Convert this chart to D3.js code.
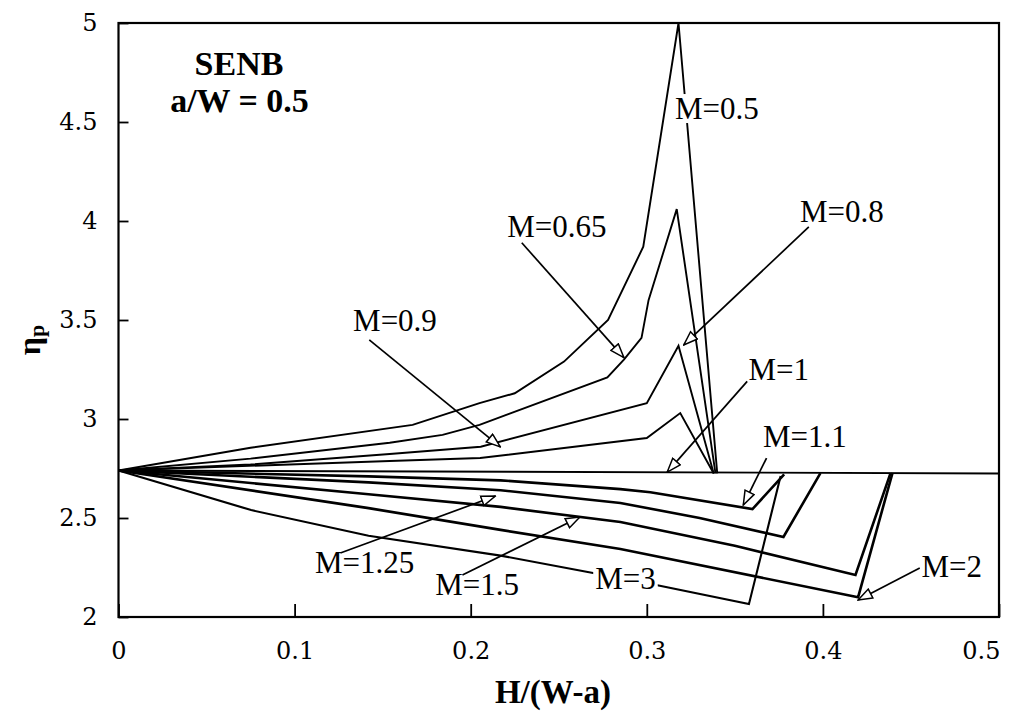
<!DOCTYPE html>
<html><head><meta charset="utf-8">
<script src="https://cdn.jsdelivr.net/npm/d3@7"></script>
<style>body{margin:0;background:#fff}</style>
</head><body><svg id="c" width="1011" height="720"></svg>
<script>
// ---- data ----
const xTicks = [0, 0.1, 0.2, 0.3, 0.4, 0.5];
const yTicks = [2, 2.5, 3, 3.5, 4, 4.5, 5];

const curveM05  = [[0,2.74],[0.075,2.855],[0.167,2.97],[0.205,3.08],[0.225,3.13],[0.253,3.29],[0.278,3.5],[0.298,3.87],[0.318,5.0],[0.34,2.725]];
const curveM065 = [[0,2.74],[0.075,2.80],[0.154,2.88],[0.184,2.92],[0.205,2.97],[0.2776,3.21],[0.287,3.30],[0.297,3.41],[0.301,3.60],[0.317,4.06],[0.339,2.725]];
const curveM08  = [[0,2.74],[0.075,2.77],[0.154,2.823],[0.2057,2.86],[0.30,3.08],[0.318,3.37],[0.338,2.725]];
const curveM09  = [[0,2.74],[0.154,2.788],[0.2054,2.803],[0.30,2.904],[0.319,3.03],[0.338,2.725]];
const curveM1   = [[0,2.74],[0.5,2.725]];
const curveM11  = [[0,2.74],[0.142,2.71],[0.217,2.69],[0.285,2.646],[0.302,2.63],[0.36,2.545],[0.378,2.72]];
const curveM125 = [[0,2.74],[0.142,2.68],[0.217,2.64],[0.285,2.576],[0.33,2.50],[0.3776,2.404],[0.3986,2.727]];
const curveM15  = [[0,2.74],[0.142,2.62],[0.217,2.556],[0.285,2.48],[0.35,2.36],[0.4185,2.212],[0.4384,2.727]];
const curveM2   = [[0,2.74],[0.142,2.55],[0.217,2.44],[0.285,2.343],[0.42,2.10],[0.4395,2.727]];
const curveM3   = [[0,2.74],[0.0753,2.54],[0.142,2.41],[0.217,2.31],[0.271,2.22],[0.306,2.16],[0.358,2.065],[0.376,2.712]];

const upperCurves = [curveM05, curveM065, curveM08, curveM09, curveM1];
const lowerCurves = [curveM11, curveM125, curveM15, curveM2];
const thinLowerCurves = [curveM3];

// label text, x, y (data units, left/baseline)
const labelTexts = ["M=0.5","M=0.65","M=0.8","M=0.9","M=1","M=1.1","M=1.25","M=1.5","M=2","M=3"];
const labelX = [0.316, 0.2207, 0.387, 0.1332, 0.3577, 0.366, 0.1116, 0.1798, 0.456, 0.2707];
const labelY = [4.515, 3.919, 3.995, 3.444, 3.197, 2.859, 2.222, 2.111, 2.202, 2.141];
const inlineLabels = ["M=0.5", "M=3"];

// arrows: from (x1,y1) to tip (x2,y2), data units
const arrowFrom = [[0.229,3.89],[0.392,3.97],[0.1424,3.40],[0.357,3.19],[0.368,2.803],[0.126,2.323],[0.1953,2.212],[0.455,2.247]];
const arrowTo   = [[0.287,3.31],[0.321,3.374],[0.2168,2.859],[0.3116,2.732],[0.3548,2.566],[0.214,2.611],[0.262,2.505],[0.42,2.086]];

// ---- drawing ----
const serif = "'Liberation Serif', 'Times New Roman', serif";
const tickFont = "'DejaVu Serif', serif";
const svg = d3.select("#c");
const x = d3.scaleLinear().domain([0, 0.5]).range([118.5, 999]);
const y = d3.scaleLinear().domain([2, 5]).range([617, 23]);
const line = d3.line().x(d => x(d[0])).y(d => y(d[1]));

svg.append("rect").attr("width",1011).attr("height",720).attr("fill","#fff");

const gc = svg.append("g").attr("fill","none").attr("stroke","#000").attr("stroke-linejoin","miter");
gc.selectAll(".u").data(upperCurves).join("path").attr("d", line).attr("stroke-width", 1.9);
gc.selectAll(".l").data(lowerCurves).join("path").attr("d", line).attr("stroke-width", 2.6);
gc.selectAll(".t").data(thinLowerCurves).join("path").attr("d", line).attr("stroke-width", 2.1);

// arrow marker
svg.append("defs").append("marker")
  .attr("id","ah").attr("markerUnits","userSpaceOnUse")
  .attr("viewBox","0 0 16 12").attr("refX",15).attr("refY",6)
  .attr("markerWidth",16).attr("markerHeight",12).attr("orient","auto")
  .append("path").attr("d","M1,1 L15,6 L1,11 Z")
  .attr("fill","#fff").attr("stroke","#000").attr("stroke-width",1.5);

svg.append("g").selectAll("line").data(arrowFrom).join("line")
  .attr("x1", d => x(d[0])).attr("y1", d => y(d[1]))
  .attr("x2", (d,i) => x(arrowTo[i][0])).attr("y2", (d,i) => y(arrowTo[i][1]))
  .attr("stroke","#000").attr("stroke-width",1.7).attr("marker-end","url(#ah)");

// labels
const gl = svg.append("g");
labelTexts.forEach((t,i) => {
  const g = gl.append("g");
  const txt = g.append("text").attr("x", x(labelX[i])).attr("y", y(labelY[i]))
    .attr("font-family", serif).attr("font-size", 31).attr("fill","#000").text(t);
  if (inlineLabels.includes(t)) {
    const b = txt.node().getBBox();
    g.insert("rect","text").attr("x", b.x-2).attr("y", b.y+3).attr("width", b.width+4).attr("height", b.height-6).attr("fill","#fff");
  }
});

// frame
svg.append("rect").attr("x", x(0)).attr("y", y(5)).attr("width", x(0.5)-x(0)).attr("height", y(2)-y(5))
  .attr("fill","none").attr("stroke","#000").attr("stroke-width",2.2);

// axes
const gx = svg.append("g").attr("transform",`translate(0,${y(2)})`)
  .call(d3.axisBottom(x).tickValues(xTicks).tickSizeInner(-13).tickSizeOuter(0).tickPadding(25).tickFormat(d3.format("")));
const gy = svg.append("g").attr("transform",`translate(${x(0)},0)`)
  .call(d3.axisLeft(y).tickValues(yTicks).tickSizeInner(-10).tickSizeOuter(0).tickPadding(21).tickFormat(d3.format("")));
[gx, gy].forEach(g => {
  g.attr("font-family", tickFont).attr("font-size", 24);
  g.select(".domain").remove();
  g.selectAll(".tick line").attr("stroke","#000").attr("stroke-width",1.8);
  g.selectAll(".tick text").attr("fill","#000").attr("font-family",tickFont).attr("font-size",24);
});
// last x tick label sits inside the page edge, as in the reference
gx.selectAll(".tick text").filter(d => d === 0.5).attr("text-anchor","end").attr("x", 1);

// titles
svg.append("text").attr("x",239).attr("y",75).attr("text-anchor","middle").attr("font-family",serif)
  .attr("font-weight","bold").attr("font-size",34).text("SENB");
svg.append("text").attr("x",239.5).attr("y",112).attr("text-anchor","middle").attr("font-family",serif)
  .attr("font-weight","bold").attr("font-size",34).text("a/W = 0.5");
svg.append("text").attr("x",553).attr("y",703).attr("text-anchor","middle").attr("font-family",serif)
  .attr("font-weight","bold").attr("font-size",33).text("H/(W-a)");
const yl = svg.append("text").attr("transform","translate(40,340) rotate(-90)").attr("text-anchor","middle")
  .attr("font-family",serif).attr("font-weight","bold").attr("font-size",32);
yl.append("tspan").text("η");
yl.append("tspan").attr("font-size",22).attr("dy",4).text("p");
</script></body></html>
